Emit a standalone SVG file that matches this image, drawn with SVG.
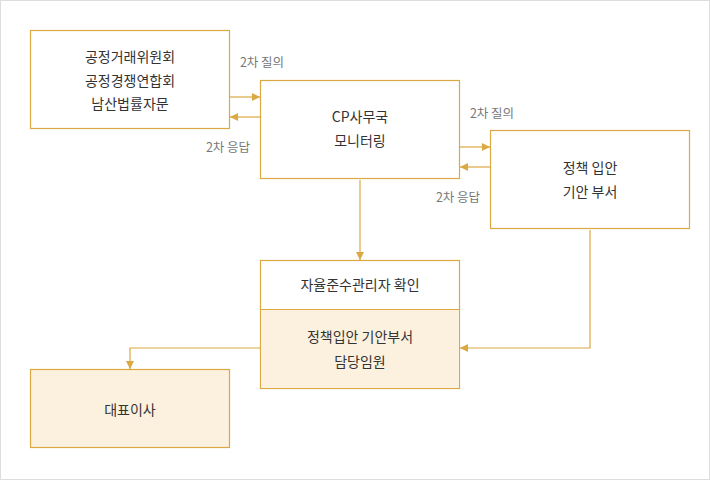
<svg xmlns="http://www.w3.org/2000/svg" width="710" height="480" viewBox="0 0 710 480">
<defs>
<style>
.box{fill:#fff;stroke:#dca842;stroke-width:1.2}
.fill{fill:#fcf1de}
.t{font-family:"Noto Sans CJK KR","Noto Sans",sans-serif;font-size:14px;fill:#333;text-anchor:middle}
.l{font-family:"Noto Sans CJK KR","Noto Sans",sans-serif;font-size:12.5px;fill:#777;text-anchor:middle}
.c{fill:none;stroke:#dca842;stroke-width:1.2}
</style>
<marker id="ah" viewBox="0 0 10 10" refX="10" refY="5" markerWidth="8" markerHeight="8" markerUnits="userSpaceOnUse" orient="auto">
<path d="M0,0 L10,5 L0,10 z" fill="#dca842"/>
</marker>
</defs>
<rect x="0.5" y="0.5" width="709" height="479" fill="#fff" stroke="#ddd"/>
<g id="connectors">
<line class="c" x1="230" y1="97" x2="260" y2="97" marker-end="url(#ah)"/>
<line class="c" x1="260" y1="117" x2="230" y2="117" marker-end="url(#ah)"/>
<line class="c" x1="460" y1="147" x2="490" y2="147" marker-end="url(#ah)"/>
<line class="c" x1="490" y1="167" x2="460" y2="167" marker-end="url(#ah)"/>
<line class="c" x1="360" y1="180" x2="360" y2="260" marker-end="url(#ah)"/>
<polyline class="c" points="590,230 590,348 460,348" marker-end="url(#ah)"/>
<polyline class="c" points="260,348 130,348 130,369" marker-end="url(#ah)"/>
<text class="l" x="262" y="67">2차 질의</text>
<text class="l" x="228" y="152">2차 응답</text>
<text class="l" x="492" y="118">2차 질의</text>
<text class="l" x="458" y="202">2차 응답</text>
</g>
<g id="node-ftc">
<rect class="box" x="30.5" y="30.5" width="199" height="98"/>
<text class="t" x="130" y="62">공정거래위원회</text>
<text class="t" x="130" y="86">공정경쟁연합회</text>
<text class="t" x="130" y="109">남산법률자문</text>
</g>
<g id="node-cp">
<rect class="box" x="260.5" y="80.5" width="199" height="98"/>
<text class="t" x="360" y="122">CP사무국</text>
<text class="t" x="360" y="146">모니터링</text>
</g>
<g id="node-dept">
<rect class="box" x="490.5" y="130.5" width="199" height="98"/>
<text class="t" x="590" y="173">정책 입안</text>
<text class="t" x="590" y="197">기안 부서</text>
</g>
<g id="node-officer">
<rect class="box" x="260.5" y="260.5" width="199" height="128"/>
<rect class="fill" x="261.1" y="309.5" width="197.8" height="78.4"/>
<line class="c" x1="260.5" y1="309.5" x2="459.5" y2="309.5"/>
<text class="t" x="360" y="290">자율준수관리자 확인</text>
<text class="t" x="360" y="342">정책입안 기안부서</text>
<text class="t" x="360" y="367">담당임원</text>
</g>
<g id="node-ceo">
<rect class="box fill" x="30.5" y="369.5" width="199" height="78" style="fill:#fcf1de"/>
<text class="t" x="130" y="415">대표이사</text>
</g>
</svg>
